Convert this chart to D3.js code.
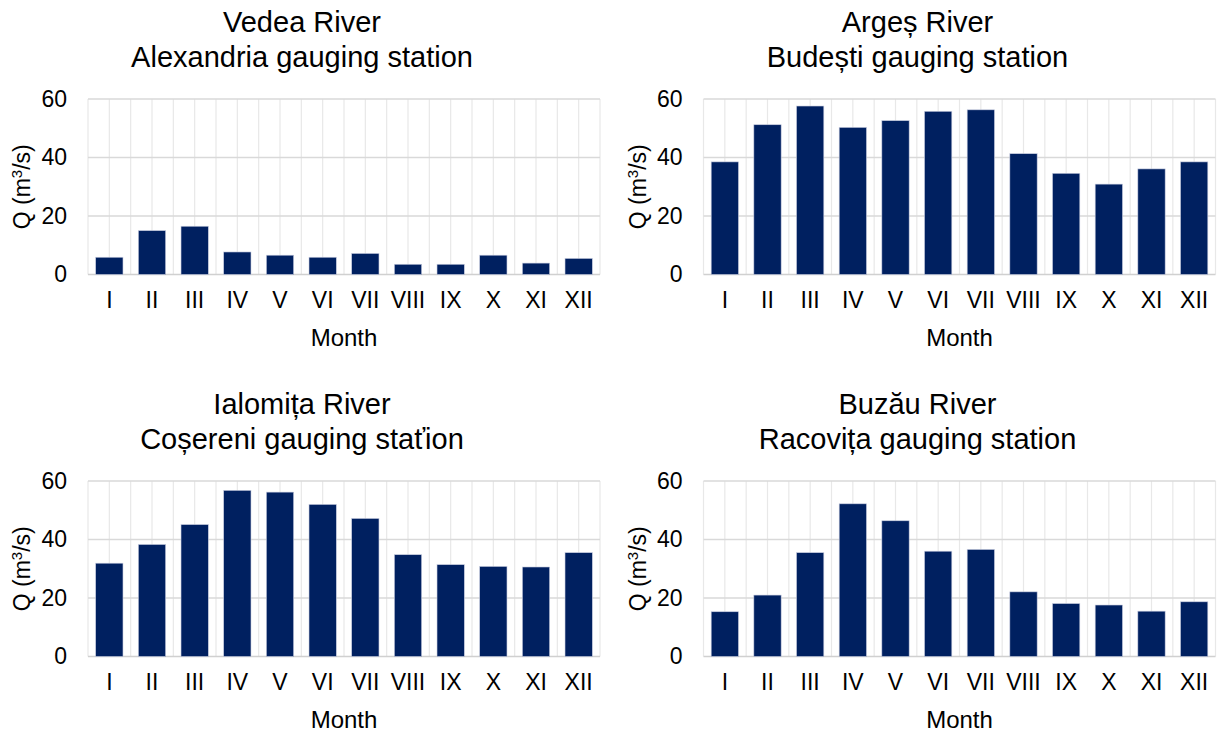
<!DOCTYPE html>
<html>
<head>
<meta charset="utf-8">
<script src="https://cdn.jsdelivr.net/npm/d3@7"></script>
<style>
  html, body { margin: 0; padding: 0; background: #fff; }
  svg { display: block; font-family: "Liberation Sans", Arial, sans-serif; }
</style>
</head>
<body>
<svg id="chart" width="1222" height="732"></svg>
<script>
const months = ["I","II","III","IV","V","VI","VII","VIII","IX","X","XI","XII"];
const yTicks = [0, 20, 40, 60];

const vedeaTitle = ["Vedea River", "Alexandria gauging station"];
const vedeaQ = [5.9, 15.0, 16.5, 7.7, 6.6, 5.9, 7.2, 3.5, 3.5, 6.6, 3.9, 5.5];

const argesTitle = ["Argeș River", "Budești gauging station"];
const argesQ = [38.5, 51.2, 57.6, 50.3, 52.6, 55.8, 56.3, 41.3, 34.6, 30.9, 36.1, 38.5];

const ialomitaTitle = ["Ialomița River", "Coșereni gauging staťion"];
const ialomitaQ = [31.9, 38.3, 45.1, 56.8, 56.2, 52.0, 47.2, 34.8, 31.4, 30.8, 30.6, 35.5];

const buzauTitle = ["Buzău River", "Racovița gauging station"];
const buzauQ = [15.3, 21.0, 35.5, 52.2, 46.4, 36.0, 36.6, 22.1, 18.1, 17.6, 15.5, 18.7];

const xLabel = "Month";

const panels = [
  { title: vedeaTitle, values: vedeaQ, ox: 0, oy: 0 },
  { title: argesTitle, values: argesQ, ox: 615.5, oy: 0 },
  { title: ialomitaTitle, values: ialomitaQ, ox: 0, oy: 382 },
  { title: buzauTitle, values: buzauQ, ox: 615.5, oy: 382 }
];

const svg = d3.select("#chart");
const barColor = "#002060";

panels.forEach(p => {
  const g = svg.append("g").attr("transform", `translate(${p.ox},${p.oy})`);
  const left = 88, right = 600, top = 99, bottom = 274.5;

  const x = d3.scaleBand().domain(months).range([left, right]).paddingInner(0.36).paddingOuter(0.18);
  const y = d3.scaleLinear().domain([0, 60]).range([bottom, top]);

  // vertical gridlines: category boundaries and centers
  const step = x.step();
  const vlines = [];
  for (let i = 0; i <= months.length * 2; i++) vlines.push(left + i * step / 2);
  g.append("g").selectAll("line").data(vlines).join("line")
    .attr("x1", d => d).attr("x2", d => d)
    .attr("y1", top).attr("y2", bottom)
    .attr("stroke", "#e8e8e8").attr("stroke-width", 1.2);

  // horizontal gridlines
  g.append("g").selectAll("line").data(yTicks).join("line")
    .attr("x1", left).attr("x2", right)
    .attr("y1", d => y(d)).attr("y2", d => y(d))
    .attr("stroke", d => d === 0 ? "#d0d0d0" : "#d9d9d9").attr("stroke-width", 1.5);

  // bars
  g.append("g").selectAll("rect").data(p.values).join("rect")
    .attr("x", (d, i) => x(months[i]))
    .attr("width", x.bandwidth())
    .attr("y", d => y(d))
    .attr("height", d => y(0) - y(d))
    .attr("fill", barColor)
    .attr("stroke", "#c8cde0").attr("stroke-width", 0.6);

  // y axis labels
  const yAxis = d3.axisLeft(y).tickValues(yTicks).tickSize(0).tickPadding(21);
  const ya = g.append("g").attr("transform", `translate(${left},0)`).call(yAxis);
  ya.select(".domain").remove();
  ya.selectAll("text").attr("font-size", 23).attr("fill", "#000").attr("font-family", "Liberation Sans, Arial, sans-serif");

  // x axis labels
  const xAxis = d3.axisBottom(x).tickSize(0).tickPadding(17);
  const xa = g.append("g").attr("transform", `translate(0,${bottom})`).call(xAxis);
  xa.select(".domain").remove();
  xa.selectAll("text").attr("font-size", 23).attr("fill", "#000").attr("font-family", "Liberation Sans, Arial, sans-serif");

  // x axis title
  g.append("text").attr("x", (left + right) / 2).attr("y", 346)
    .attr("text-anchor", "middle").attr("font-size", 24).attr("fill", "#000")
    .text(xLabel);

  // y axis title
  const yt = g.append("text")
    .attr("transform", `translate(30,${(top + bottom) / 2}) rotate(-90)`)
    .attr("text-anchor", "middle").attr("font-size", 23).attr("fill", "#000");
  yt.append("tspan").text("Q (m");
  yt.append("tspan").attr("font-size", 15).attr("dy", -8).text("3");
  yt.append("tspan").attr("dy", 8).text("/s)");

  // title
  g.selectAll("text.title").data(p.title).join("text").attr("class", "title")
    .attr("x", 302).attr("y", (d, i) => 32 + i * 35)
    .attr("text-anchor", "middle").attr("font-size", 29).attr("fill", "#000")
    .text(d => d);
});
</script>
</body>
</html>
